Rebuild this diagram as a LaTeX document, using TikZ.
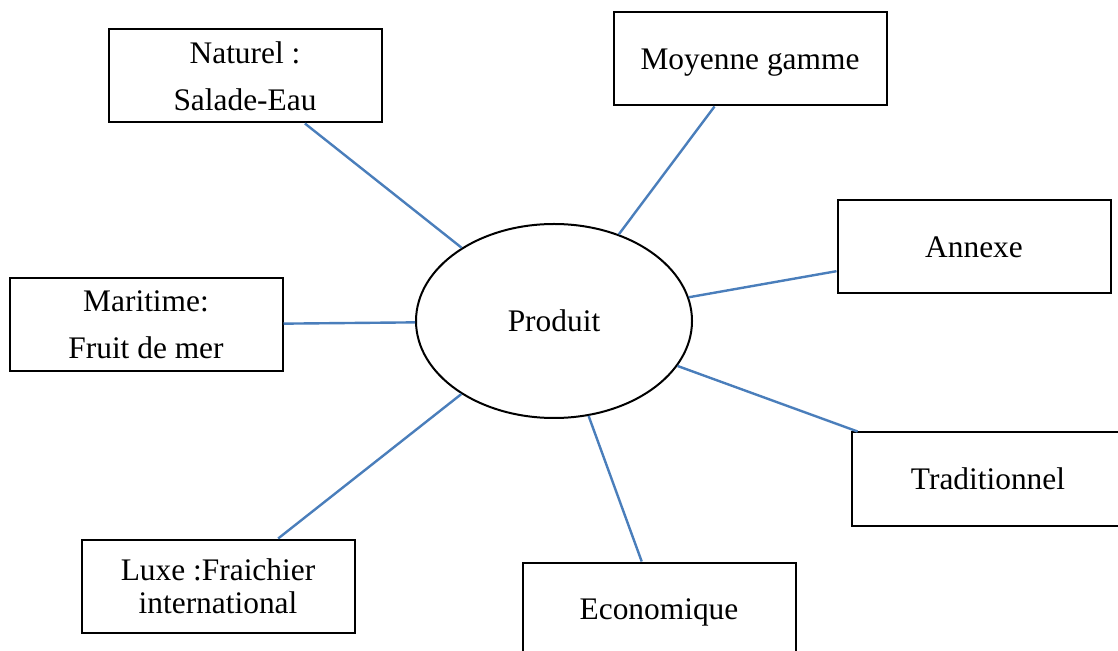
\documentclass[tikz,border=0pt]{standalone}
\usepackage{fontspec}
\setmainfont{Liberation Serif}
\usetikzlibrary{shapes.geometric}

\definecolor{lienbleu}{RGB}{74,126,187}

\tikzset{
	boite/.style = {draw, line width=1pt, minimum width=136.5pt, minimum height=46.5pt,
		align=center, font=\fontsize{15.7}{23.5}\selectfont},
	produit/.style = {draw, ellipse, line width=1pt, minimum width=138pt, minimum height=97pt,
		font=\fontsize{15.7}{18}\selectfont},
	lien/.style = {lienbleu, line width=1.2pt}
}

\begin{document}
\begin{tikzpicture}[x=0.5pt, y=-0.5pt]
		\clip (0,0) rectangle (1118,651);
		
		\node[produit] (prod) at (554,321) {Produit};
		
		\node[boite] (nat) at (245,76) {Naturel :\\Salade-Eau};
		\node[boite, text depth=0pt] (moy) at (750,59) {Moyenne gamme};
		\node[boite] (ann) at (974,247) {Annexe};
		\node[boite] (mar) at (146,325) {Maritime:\\Fruit de mer};
		\node[boite] (trad) at (988,479) {Traditionnel};
		\node[boite, text depth=0pt] (eco) at (659,609) {Economique};
		\node[boite, font=\fontsize{15.7}{16.5}\selectfont] (lux) at (218,586) {Luxe :Fraichier\\international};
		
		\begin{scope}[lien]
			\draw (nat) -- (prod);
			\draw (moy) -- (prod);
			\draw (ann) -- (prod);
			\draw (mar) -- (prod);
			\draw (trad) -- (prod);
			\draw (eco) -- (prod);
			\draw (lux) -- (prod);
		\end{scope}
	\end{tikzpicture}
\end{document}
